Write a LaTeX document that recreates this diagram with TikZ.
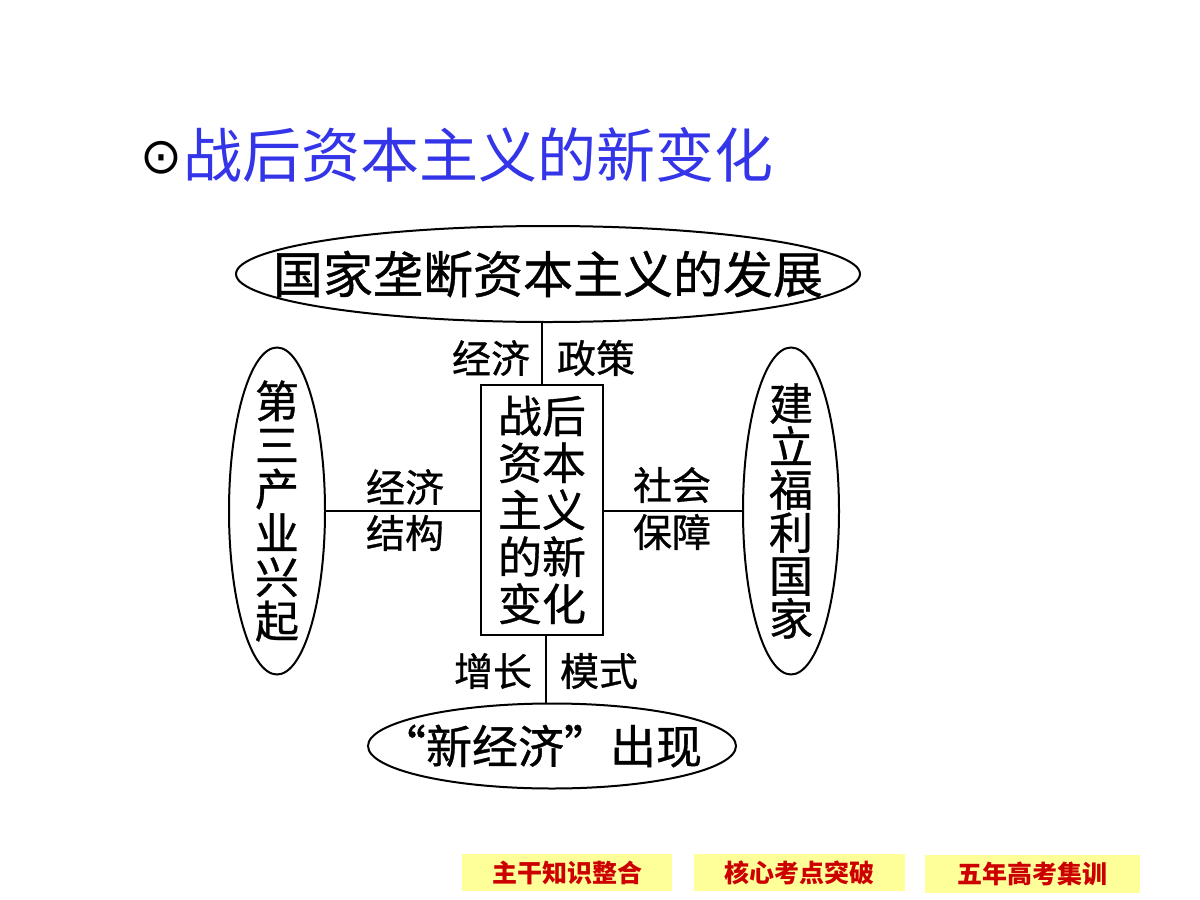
\documentclass[tikz,border=0pt]{standalone}
\usepackage{fontspec}
\newfontfamily\cjk{Noto Sans CJK SC}
\newfontfamily\song{Noto Sans CJK SC}[FakeBold=0.8]
\newfontfamily\symfont{DejaVu Sans}
\usetikzlibrary{shapes.geometric}
\definecolor{titleblue}{HTML}{3434E8}
\definecolor{btnyellow}{HTML}{FFFF99}
\definecolor{btnred}{HTML}{CC0000}
\begin{document}
\begin{tikzpicture}[x=1pt,y=-1pt,line width=2pt,
  oval/.style={draw,ellipse,inner sep=0pt},
  txt/.style={inner sep=0pt,align=center},
  big/.style={font=\song\fontsize{50}{50}\selectfont},
  mid/.style={font=\song\fontsize{44}{47}\selectfont},
  lbl/.style={inner sep=0pt,font=\song\fontsize{39}{39}\selectfont},
  btn/.style={fill=btnyellow,inner sep=0pt,text=btnred,font=\cjk\bfseries\fontsize{25}{25}\selectfont}]
\useasboundingbox (0,0) rectangle (1200,900);
% title
\node[inner sep=0pt,font=\symfont\fontsize{50}{50}\selectfont] (dot) at (161,158) {⊙};
\node[inner sep=0pt,anchor=west,text=titleblue,font=\cjk\fontsize{59}{59}\selectfont] (title) at (182,155) {战后资本主义的新变化};
% ellipses
\node[oval,minimum width=624,minimum height=96] (top) at (548,274) {};
\node[txt,big] (toptxt) at (top.center) {国家垄断资本主义的发展};
\node[oval,minimum width=96,minimum height=327] (left) at (277,511) {};
\node[txt,font=\song\fontsize{44}{44}\selectfont] (lefttxt) at (left.center) {第\\三\\产\\业\\兴\\起};
\node[oval,minimum width=96,minimum height=327] (right) at (791,511) {};
\node[txt,font=\song\fontsize{44}{43}\selectfont] (righttxt) at (right.center) {建\\立\\福\\利\\国\\家};
\node[oval,minimum width=368,minimum height=85] (bot) at (552,746) {};
\node[txt,font=\song\fontsize{46}{46}\selectfont] (bottxt) at ([xshift=-11pt]bot.center) {“新经济”出现};
% centre box
\node[draw,minimum width=122,minimum height=250,inner sep=0pt] (box) at (542,510) {};
\node[txt,mid] (boxtxt) at (box.center) {战后\\资本\\主义\\的新\\变化};
% connectors
\draw (top.south -| box.north) -- (box.north);
\draw (left.east) -- (left.east -| box.west);
\draw (box.east |- right.west) -- (right.west);
\draw ([xshift=4pt]box.south) -- ([xshift=4pt]box.south |- bot.north);
% labels
\node[lbl] (l1) at (491,358) {经济};
\node[lbl] (l2) at (596,358) {政策};
\node[lbl] (l3) at (405,487) {经济};
\node[lbl] (l4) at (405,533) {结构};
\node[lbl] (l5) at (672,485) {社会};
\node[lbl] (l6) at (672,532) {保障};
\node[lbl] (l7) at (493,671) {增长};
\node[lbl] (l8) at (599,671) {模式};
% buttons
\node[btn,minimum width=210,minimum height=37] (b1) at (567,872.5) {主干知识整合};
\node[btn,minimum width=211,minimum height=37] (b2) at (799.5,872.5) {核心考点突破};
\node[btn,minimum width=215,minimum height=38] (b3) at (1032.5,874) {五年高考集训};
\end{tikzpicture}
\end{document}
